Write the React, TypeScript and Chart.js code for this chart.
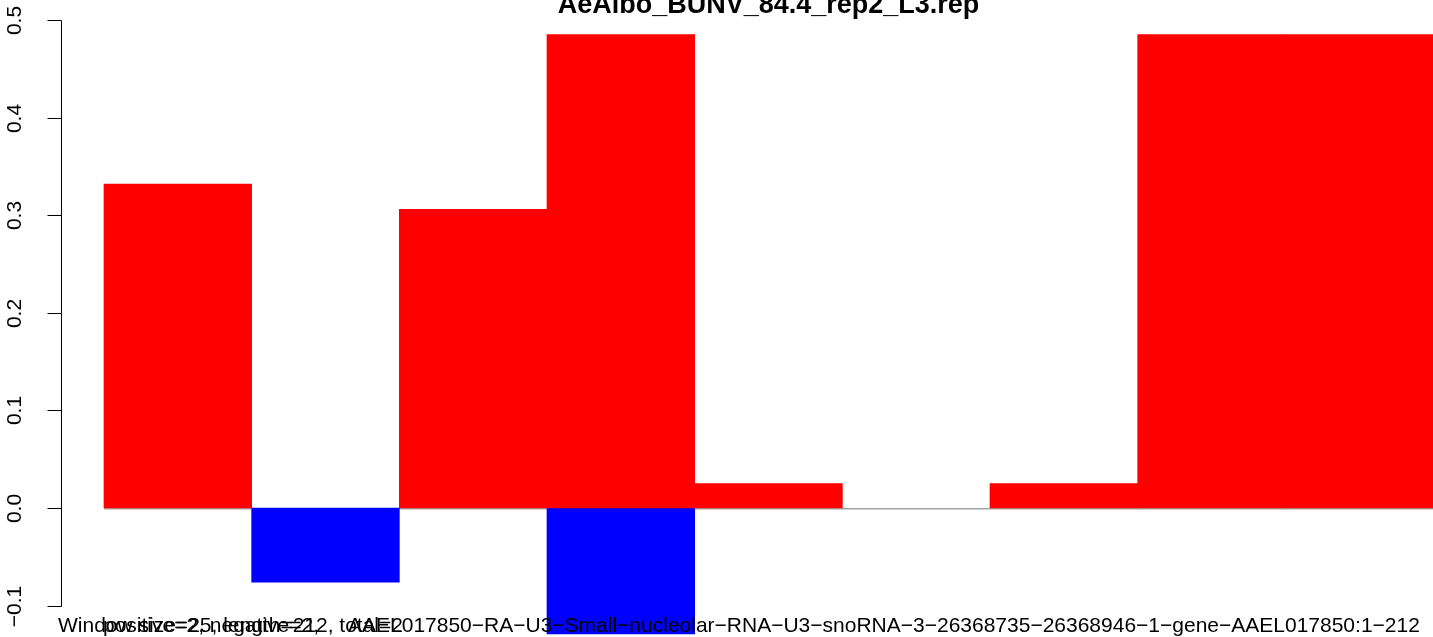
import React, { useEffect, useRef } from 'react';
import { Chart, registerables } from 'chart.js';

Chart.register(...registerables);

// ---- data ----
const windows = [1, 2, 3, 4, 5, 6, 7, 8, 9];
const positiveValues = [0.332, 0, 0.306, 0.485, 0.025, 0, 0.025, 0.485, 0.485];
const negativeValues = [0, -0.076, 0, -0.129, 0, 0, 0, 0, 0];
const yTicks = [-0.1, 0, 0.1, 0.2, 0.3, 0.4, 0.5];
const yTickLabels = ['\u22120.1', '0.0', '0.1', '0.2', '0.3', '0.4', '0.5'];
const titleText = 'AeAlbo_BUNV_84.4_rep2_L3.rep';
const leftNote = 'Window size=25, length=212, total=2';
const countNote = 'positive=2, negative=2,';
const xLabel =
  'AAEL017850\u2212RA\u2212U3\u2212Small\u2212nucleolar\u2212RNA\u2212U3\u2212snoRNA\u22123\u221226368735\u221226368946\u22121\u2212gene\u2212AAEL017850:1\u2212212';

// ---- layout / style ----
const W = 1433;
const H = 637;
const FONT = '"Liberation Sans", Arial, Helvetica, sans-serif';
const X_MIN = -0.7043;
const X_MAX = 9;
const Y_MIN = -0.13217;
const Y_MAX = 0.52049;
const AXIS_AT = -0.29;

const rPlot = {
  id: 'rPlot',
  beforeDatasetsDraw(chart: any) {
    const { ctx, scales } = chart;
    const x = scales.x;
    const y = scales.y;
    ctx.save();
    ctx.strokeStyle = '#a3a3a3';
    ctx.lineWidth = 1.6;
    const y0 = y.getPixelForValue(0) + 0.8;
    ctx.beginPath();
    ctx.moveTo(x.getPixelForValue(0), y0);
    ctx.lineTo(x.getPixelForValue(windows.length), y0);
    ctx.stroke();
    ctx.restore();
  },
  afterDraw(chart: any) {
    const { ctx, scales } = chart;
    const x = scales.x;
    const y = scales.y;
    ctx.save();
    // y axis
    const ax = Math.round(x.getPixelForValue(AXIS_AT)) + 0.5;
    ctx.strokeStyle = '#000';
    ctx.lineWidth = 1;
    ctx.beginPath();
    ctx.moveTo(ax, Math.round(y.getPixelForValue(yTicks[0])) + 0.5);
    ctx.lineTo(ax, Math.round(y.getPixelForValue(yTicks[yTicks.length - 1])) + 0.5);
    ctx.stroke();
    ctx.fillStyle = '#000';
    ctx.font = `21px ${FONT}`;
    ctx.textAlign = 'center';
    ctx.textBaseline = 'middle';
    yTicks.forEach((t, i) => {
      const py = Math.round(y.getPixelForValue(t)) + 0.5;
      ctx.beginPath();
      ctx.moveTo(ax - 14, py);
      ctx.lineTo(ax, py);
      ctx.stroke();
      ctx.save();
      ctx.translate(ax - 46, py);
      ctx.rotate(-Math.PI / 2);
      ctx.fillText(yTickLabels[i], 0, 0);
      ctx.restore();
    });
    // title
    const cx = x.getPixelForValue(windows.length / 2);
    ctx.font = `bold 27px ${FONT}`;
    ctx.textAlign = 'center';
    ctx.textBaseline = 'alphabetic';
    ctx.fillText(titleText, cx, 13);
    // bottom texts
    ctx.font = `21px ${FONT}`;
    ctx.textAlign = 'left';
    ctx.fillText(leftNote, 58, 632);
    ctx.fillText(countNote, 103, 632);
    ctx.fillText(xLabel, 348, 632);
    ctx.restore();
  },
};

export default function App() {
  const ref = useRef<HTMLCanvasElement | null>(null);
  useEffect(() => {
    if (!ref.current) return;
    const chart = new Chart(ref.current, {
      type: 'bar',
      data: {
        datasets: [
          {
            label: 'positive',
            data: windows.map((w, i) => ({ x: w - 0.5, y: positiveValues[i] === 0 ? null : positiveValues[i] })),
            backgroundColor: '#ff0000',
            borderWidth: 0,
          },
          {
            label: 'negative',
            data: windows.map((w, i) => ({ x: w - 0.5, y: negativeValues[i] === 0 ? null : negativeValues[i] })),
            backgroundColor: '#0000ff',
            borderWidth: 0,
          },
        ],
      },
      options: {
        responsive: false,
        animation: false,
        datasets: {
          bar: { grouped: false, categoryPercentage: 1, barPercentage: 1 },
        },
        layout: { padding: 0 },
        plugins: {
          legend: { display: false },
          tooltip: { enabled: false },
          title: { display: false },
        },
        scales: {
          x: {
            type: 'linear',
            display: false,
            min: X_MIN,
            max: X_MAX,
            offset: false,
            afterBuildTicks: (s: any) => {
              s.ticks = windows.map((w) => ({ value: w - 0.5 }));
            },
          },
          y: { type: 'linear', display: false, min: Y_MIN, max: Y_MAX },
        },
      },
      plugins: [rPlot],
    } as any);
    return () => chart.destroy();
  }, []);
  return (
    <div style={{ position: 'absolute', left: 0, top: 0, width: W, height: H, background: '#fff' }}>
      <canvas ref={ref} width={W} height={H} style={{ display: 'block' }} />
    </div>
  );
}
